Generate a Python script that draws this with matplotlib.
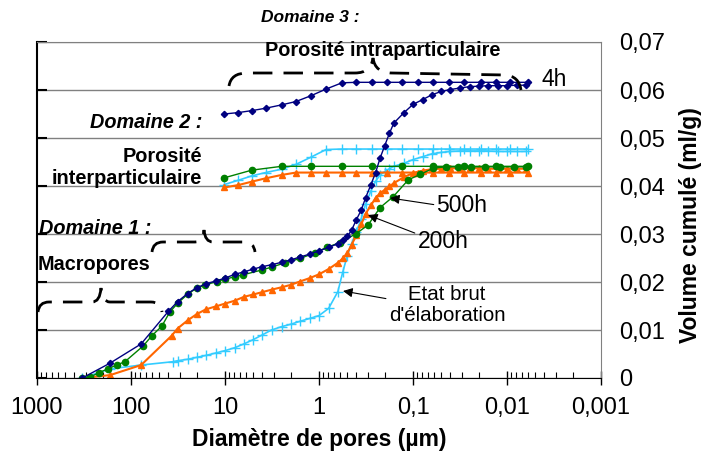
import numpy as np
import matplotlib.pyplot as plt
from matplotlib.path import Path
from matplotlib.patches import PathPatch

plt.rcParams['font.family'] = ['Liberation Sans', 'DejaVu Sans']

# ---- data (diametre en um, volume cumule en ml/g) ----
d_grid = [40, 32, 25, 20, 16, 12.6, 10, 7.9, 6.3, 5, 4, 3.2, 2.5, 2, 1.6, 1.26, 1, 0.79, 0.63,
          0.56, 0.5, 0.45, 0.4, 0.355, 0.32, 0.28, 0.25, 0.224, 0.2, 0.178, 0.16,
          0.126, 0.1, 0.079, 0.063, 0.05, 0.04, 0.032, 0.025, 0.02, 0.016, 0.0126, 0.01, 0.0079, 0.0063]

d_4h_start = [330, 167, 78]
v_4h_start = [0, 0.0031, 0.0071]
v_4h = [0.0139, 0.0159, 0.0176, 0.0188, 0.0196, 0.0202, 0.0208, 0.0216, 0.0221, 0.0227, 0.0232,
        0.0236, 0.0241, 0.0246, 0.0252, 0.0258, 0.0265, 0.0272, 0.0280,
        0.0287, 0.0295, 0.0308, 0.0330, 0.0350, 0.0375, 0.0403, 0.0428, 0.0458, 0.0484, 0.0510, 0.0531,
        0.0552, 0.0570, 0.0580, 0.0590, 0.0597, 0.0601, 0.0604, 0.0607, 0.0608, 0.0609, 0.0609,
        0.0609, 0.0610, 0.0610]

d_200h_start = [330, 167, 78, 37]
v_200h_start = [0, 0.0006, 0.0027, 0.0088]
v_200h = [0.0103, 0.0120, 0.0133, 0.0143, 0.0149, 0.0155, 0.0161, 0.0169, 0.0174, 0.0179,
          0.0184, 0.0189, 0.0194, 0.0201, 0.0208, 0.0216, 0.0227, 0.0240,
          0.0249, 0.0260, 0.0278, 0.0297, 0.0320, 0.0342, 0.0360, 0.0375, 0.0385, 0.0392, 0.0399, 0.0406,
          0.0418, 0.0427, 0.0432, 0.0435, 0.0436, 0.0437, 0.0437, 0.0437, 0.0437, 0.0436, 0.0436,
          0.0436, 0.0436, 0.0436]

d_brut_start = [330, 167, 78, 35.5]
v_brut_start = [0, 0.0019, 0.0027, 0.0034]
v_brut = [0.0036, 0.0039, 0.0043, 0.0047, 0.0052, 0.0057, 0.0063, 0.0071, 0.0080, 0.0090,
          0.0100, 0.0107, 0.0112, 0.0118, 0.0124, 0.0130, 0.0145, 0.0180,
          0.0220, 0.0255, 0.0280, 0.0305, 0.0332, 0.0362, 0.0390, 0.0410, 0.0423, 0.0430, 0.0436, 0.0441,
          0.0447, 0.0455, 0.0461, 0.0467, 0.0470, 0.0472, 0.0473, 0.0473, 0.0473, 0.0473, 0.0472,
          0.0472, 0.0472, 0.0472]

d_500h = [334, 273, 219, 177, 142, 116, 74, 60, 47, 38.5, 31.4, 24.5, 20, 16.3, 12.2, 10,
          7.8, 6.4, 4.07, 3.19, 2.3, 1.59, 1.10, 0.83, 0.60, 0.40, 0.30, 0.224, 0.162, 0.112,
          0.084, 0.061, 0.045, 0.033, 0.024, 0.017, 0.012, 0.0085, 0.0063]
v_500h = [0, 0.0002, 0.0011, 0.0019, 0.0027, 0.0034, 0.0067, 0.0088, 0.0108, 0.0138, 0.0157,
          0.0176, 0.0187, 0.0194, 0.0201, 0.0206, 0.0211, 0.0215, 0.0225, 0.0231, 0.0240, 0.0249,
          0.0261, 0.0272, 0.0282, 0.0301, 0.0319, 0.0355, 0.0378, 0.0413, 0.0424, 0.0437,
          0.0440, 0.0440, 0.0440, 0.0440, 0.0440, 0.0440, 0.0440]

# extrusion (retrait)
d_ext = [10.2, 7.2, 5.2, 3.7, 2.5, 1.76, 1.22, 0.84, 0.57, 0.40, 0.275, 0.19, 0.13, 0.088,
         0.061, 0.041, 0.029, 0.019, 0.013, 0.0093, 0.006]
v_ext_4h = [0.0550, 0.0553, 0.0557, 0.0562, 0.0569, 0.0576, 0.0588, 0.0602, 0.0615, 0.0616,
            0.0616, 0.0616, 0.0616, 0.0616, 0.0616, 0.0616, 0.0616, 0.0616, 0.0616, 0.0616, 0.0616]
v_ext_brut = [0.0403, 0.0412, 0.0421, 0.0428, 0.0435, 0.0445, 0.0460, 0.0476, 0.0477, 0.0477,
              0.0477, 0.0477, 0.0477, 0.0477, 0.0477, 0.0477, 0.0477, 0.0477, 0.0477, 0.0477, 0.0477]
v_ext_200h = [0.0397, 0.0402, 0.0409, 0.0416, 0.0423, 0.0428, 0.0428, 0.0428, 0.0428, 0.0428,
              0.0428, 0.0428, 0.0428, 0.0428, 0.0428, 0.0428, 0.0428, 0.0428, 0.0428, 0.0428, 0.0428]
d_ext_500h = [10.2, 5.2, 2.5, 1.22, 0.57, 0.275, 0.13, 0.061, 0.029, 0.013, 0.006]
v_ext_500h = [0.0417, 0.0433, 0.0441, 0.0441, 0.0441, 0.0441, 0.0441, 0.0441, 0.0441, 0.0441, 0.0441]

xticks = [1000, 100, 10, 1, 0.1, 0.01, 0.001]
xlabels = ['1000', '100', '10', '1', '0,1', '0,01', '0,001']
yticks = [0, 0.01, 0.02, 0.03, 0.04, 0.05, 0.06, 0.07]
ylabels = ['0', '0,01', '0,02', '0,03', '0,04', '0,05', '0,06', '0,07']

W, H = 705, 459
fig = plt.figure(figsize=(W / 100, H / 100), dpi=100)
ax = fig.add_axes([37 / W, 1 - 378 / H, 564 / W, 336 / H])

def px(x, y):
    return (x / W, 1 - y / H)

navy = '#000080'
green = '#008000'
orange = '#FF6600'
cyan = '#33CCFF'

# etat brut
ax.plot(d_brut_start + d_grid[1:], v_brut_start + v_brut, color=cyan, lw=1.2,
        marker='+', ms=7, mew=1)
ax.plot(d_ext, v_ext_brut, color=cyan, lw=1.2, marker='+', ms=7, mew=1)
# 200h
ax.plot(d_200h_start + d_grid[1:], v_200h_start + v_200h, color=orange, lw=1.5,
        marker='^', ms=4.5)
ax.plot(d_ext, v_ext_200h, color=orange, lw=1.5, marker='^', ms=4.5)
# 500h
ax.plot(d_500h, v_500h, color=green, lw=1, marker='o', ms=4.5)
ax.plot(d_ext_500h, v_ext_500h, color=green, lw=1, marker='o', ms=4.5)
# 4h
ax.plot(d_4h_start + d_grid, v_4h_start + v_4h, color=navy, lw=1, marker='D', ms=3.2)
ax.plot(d_ext, v_ext_4h, color=navy, lw=1, marker='D', ms=3.2)

ax.set_xscale('log')
ax.set_xlim(1000, 0.001)
ax.set_ylim(0, 0.07)
ax.set_xticks(xticks)
ax.set_xticklabels(xlabels, fontsize=17)
ax.set_yticks(yticks)
ax.set_yticklabels(ylabels, fontsize=17)
ax.grid(axis='y', color='#808080', lw=1)
ax.set_axisbelow(True)

ax.tick_params(axis='x', which='major', direction='inout', length=10, width=1, pad=9)
ax.tick_params(axis='x', which='minor', direction='in', length=4, width=0.8)
ax.tick_params(axis='y', direction='in', length=7, width=1.5, left=True, right=False,
               labelleft=False, labelright=True, pad=13)
for s in ['top', 'right']:
    ax.spines[s].set_color('#808080')
ax.spines['left'].set_linewidth(1.5)

ax.set_xlabel('Diamètre de pores (µm)', fontsize=16.5, fontweight='bold', labelpad=6)
fig.text(*px(691, 225), 'Volume cumulé (ml/g)', fontsize=16.5, fontweight='bold',
         rotation=90, ha='center', va='center')

# annotations
fig.text(*px(310, 18), 'Domaine 3 :', fontsize=12.5, fontweight='bold', fontstyle='italic',
         ha='center', va='center')
fig.text(*px(383, 50), 'Porosité intraparticulaire', fontsize=14.3, fontweight='bold',
         ha='center', va='center')
fig.text(*px(202, 122), 'Domaine 2 :', fontsize=14.3, fontweight='bold', fontstyle='italic',
         ha='right', va='center')
fig.text(*px(202, 168), 'Porosité\ninterparticulaire', fontsize=14.3, fontweight='bold',
         ha='right', va='center', multialignment='right', linespacing=1.2)
fig.text(*px(39, 228), 'Domaine 1 :', fontsize=14.3, fontweight='bold', fontstyle='italic',
         ha='left', va='center')
fig.text(*px(38, 265), 'Macropores', fontsize=14.3, fontweight='bold', ha='left', va='center')
fig.text(*px(542, 80), '4h', fontsize=16.5, ha='left', va='center')

arrow = dict(arrowstyle='-|>', color='black', lw=0.8, mutation_scale=14, shrinkA=0, shrinkB=0)
ax.annotate('500h', xy=px(390, 198), xycoords='figure fraction', xytext=px(462, 205),
            textcoords='figure fraction', fontsize=16.5, ha='center', va='center',
            arrowprops=dict(arrow, relpos=(0, 0.5)))
ax.annotate('200h', xy=px(368, 215), xycoords='figure fraction', xytext=px(443, 242),
            textcoords='figure fraction', fontsize=16.5, ha='center', va='center',
            arrowprops=dict(arrow, relpos=(0.05, 0.8)))
ax.annotate("Etat brut\nd'élaboration", xy=px(343, 291), xycoords='figure fraction',
            xytext=px(447, 305), textcoords='figure fraction', fontsize=14.8, ha='center',
            va='center', linespacing=1.1, arrowprops=dict(arrow, relpos=(0.0, 0.65)))

# accolades en tirets
def brace(pts, codes):
    verts = [px(x, y) for x, y in pts]
    p = PathPatch(Path(verts, codes), transform=fig.transFigure, fill=False, lw=2,
                  ls=(0, (7, 4)), color='black')
    fig.add_artist(p)

C, L3, M = Path.CURVE3, Path.LINETO, Path.MOVETO
brace([(229, 86), (231, 73), (247, 73), (355, 73), (371, 73), (373, 58), (375, 73), (392, 73),
       (505, 75), (519, 76), (521, 90)],
      [M, C, C, L3, C, C, C, C, L3, C, C])
brace([(152, 252), (153, 242), (163, 242), (195, 242), (203, 242), (204, 230), (205, 242),
       (213, 242), (244, 242), (254, 242), (255, 252)],
      [M, C, C, L3, C, C, C, C, L3, C, C])
brace([(38, 312), (39, 302), (49, 302), (92, 302), (100, 302), (101, 288), (102, 302),
       (110, 302), (151, 302), (161, 302), (162, 312)],
      [M, C, C, L3, C, C, C, C, L3, C, C])

fig.savefig('out.png', dpi=100)
